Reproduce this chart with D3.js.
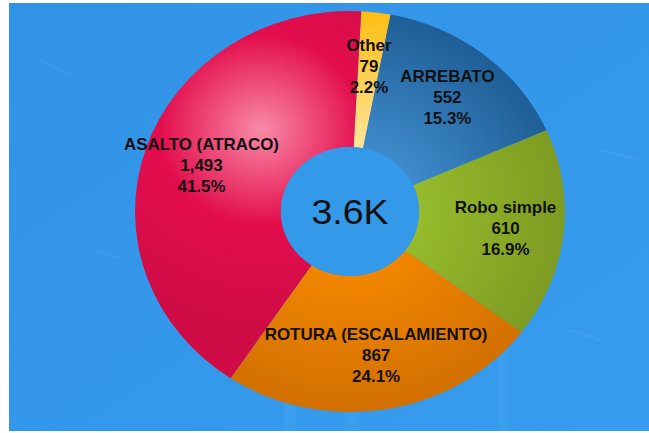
<!DOCTYPE html>
<html>
<head>
<meta charset="utf-8">
<script src="https://cdn.jsdelivr.net/npm/d3@7"></script>
<style>
  html, body { margin: 0; padding: 0; background: #fff; }
  svg { display: block; }
  text { font-family: "Liberation Sans", Arial, sans-serif; }
</style>
</head>
<body>
<div id="chart"></div>
<script>
// data, clockwise from the top
var categories = ['Other', 'ARREBATO', 'Robo simple', 'ROTURA (ESCALAMIENTO)', 'ASALTO (ATRACO)'];
var values = [79, 552, 610, 867, 1493];
// light (inner) and dark (outer) shade of every slice
var lightColors = ['#ffe699', '#3f8acb', '#96bb2c', '#f28600', '#f98aa8'];
var darkColors = ['#fdbd12', '#1f5e96', '#7e9b22', '#d27000', '#d00c47'];

var width = 649, height = 433;
var cx = 350, cy = 211.5;
var stretch = 1.072;          // the picture is a bit wider than tall
var outerR = 200.5, innerR = 64.5, labelR = 146;
var startOffset = 3 * Math.PI / 180;

var total = d3.sum(values);
var fmtNum = d3.format(',');
var fmtPct = d3.format('.1%');

var svg = d3.select('#chart').append('svg')
    .attr('width', width)
    .attr('height', height);

var defs = svg.append('defs');

// background
var bg = defs.append('linearGradient').attr('id', 'bgGrad')
    .attr('x1', 0).attr('y1', 0).attr('x2', 1).attr('y2', 1);
bg.append('stop').attr('offset', 0).attr('stop-color', '#3193e6');
bg.append('stop').attr('offset', 1).attr('stop-color', '#379cee');

svg.append('rect')
    .attr('x', 9).attr('y', 3)
    .attr('width', width - 9).attr('height', height - 5)
    .attr('fill', 'url(#bgGrad)');

// faint texture of the background picture
var streaks = [[40, 60, 70, 75], [150, 120, 200, 140], [95, 250, 120, 258], [600, 150, 640, 160], [570, 330, 600, 340]];
svg.append('g').selectAll('line')
    .data(streaks)
    .enter()
    .append('line')
    .attr('x1', function(d) { return d[0]; })
    .attr('y1', function(d) { return d[1]; })
    .attr('x2', function(d) { return d[2]; })
    .attr('y2', function(d) { return d[3]; })
    .attr('stroke', '#ffffff')
    .attr('stroke-opacity', 0.045)
    .attr('stroke-width', 3);

var bands = [[284, 12], [345, 14], [498, 10]];
svg.append('g').selectAll('rect')
    .data(bands)
    .enter()
    .append('rect')
    .attr('x', function(d) { return d[0]; })
    .attr('y', 300)
    .attr('width', function(d) { return d[1]; })
    .attr('height', height - 302)
    .attr('fill', '#6ec3ff')
    .attr('opacity', 0.1);

var g = svg.append('g')
    .attr('transform', 'translate(' + cx + ',' + cy + ') scale(' + stretch + ',1)');

// gradients, one per slice
categories.forEach(function(c, i) {
    var grad;
    if (i === categories.length - 1) {
        grad = defs.append('radialGradient').attr('id', 'slice' + i)
            .attr('gradientUnits', 'userSpaceOnUse')
            .attr('cx', -83).attr('cy', -82).attr('r', 190)
            .attr('fx', -83).attr('fy', -82);
        grad.append('stop').attr('offset', 0).attr('stop-color', lightColors[i]);
        grad.append('stop').attr('offset', 0.5).attr('stop-color', '#e30d4c');
        grad.append('stop').attr('offset', 1).attr('stop-color', darkColors[i]);
    } else {
        grad = defs.append('radialGradient').attr('id', 'slice' + i)
            .attr('gradientUnits', 'userSpaceOnUse')
            .attr('cx', 0).attr('cy', 0).attr('r', outerR);
        grad.append('stop').attr('offset', innerR / outerR).attr('stop-color', lightColors[i]);
        grad.append('stop').attr('offset', 1).attr('stop-color', darkColors[i]);
    }
});

var pie = d3.pie()
    .sort(null)
    .startAngle(startOffset)
    .endAngle(startOffset + 2 * Math.PI);

var arc = d3.arc().innerRadius(innerR).outerRadius(outerR);
var labelArc = d3.arc().innerRadius(labelR).outerRadius(labelR);

var arcs = pie(values);

g.selectAll('path.slice')
    .data(arcs)
    .enter()
    .append('path')
    .attr('class', 'slice')
    .attr('d', arc)
    .attr('fill', function(d, i) { return 'url(#slice' + i + ')'; });

// centre hole
g.append('circle')
    .attr('r', innerR)
    .attr('fill', '#3399e8');

g.append('text')
    .attr('text-anchor', 'middle')
    .attr('dy', '0.36em')
    .attr('y', 0)
    .style('font-size', '35px')
    .style('fill', '#111')
    .text((total / 1000).toFixed(1) + 'K');

// labels
var lbl = g.selectAll('g.lbl')
    .data(arcs)
    .enter()
    .append('g')
    .attr('class', 'lbl')
    .attr('transform', function(d) {
        var c = labelArc.centroid(d);
        return 'translate(' + c[0] + ',' + c[1] + ')';
    });

lbl.each(function(d, i) {
    var lines = [categories[i], fmtNum(values[i]), fmtPct(values[i] / total)];
    d3.select(this).selectAll('text')
        .data(lines)
        .enter()
        .append('text')
        .attr('text-anchor', 'middle')
        .attr('y', function(t, j) { return (j - 1) * 21; })
        .attr('dy', '0.36em')
        .style('font-size', '15.8px')
        .style('font-weight', 'bold')
        .style('fill', '#111')
        .text(function(t) { return t; });
});
</script>
</body>
</html>
